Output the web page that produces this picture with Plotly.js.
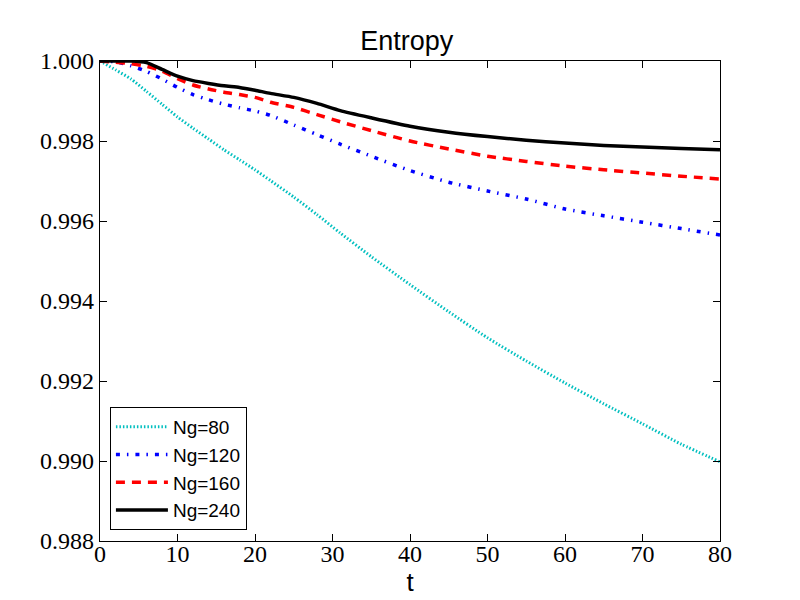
<!DOCTYPE html>
<html>
<head>
<meta charset="utf-8">
<script src="https://cdn.plot.ly/plotly-3.0.1.min.js"></script>
<style>
  html, body { margin: 0; padding: 0; background: white; }
  #chart { width: 800px; height: 600px; }
</style>
</head>
<body>
<div id="chart"></div>
<script>
// time samples
const t = [0, 2, 4, 6, 8, 10, 12, 14, 16, 18, 20, 22, 25, 28, 31, 35, 40, 45, 50, 55, 60, 65, 70, 75, 80];

const ng80 = [1.00000, 0.99978, 0.99955, 0.99924, 0.99892, 0.99860, 0.99832, 0.99805, 0.99778, 0.99753,
              0.99728, 0.99701, 0.99660, 0.99616, 0.99570, 0.99511, 0.99441, 0.99373, 0.99308, 0.99250,
              0.99195, 0.99143, 0.99093, 0.99042, 0.98998];
const ng120 = [1.00000, 0.99998, 0.99988, 0.99974, 0.99955, 0.99934, 0.99916, 0.99903, 0.99892, 0.99883,
               0.99875, 0.99864, 0.99840, 0.99816, 0.99792, 0.99762, 0.99726, 0.99697, 0.99675, 0.99655,
               0.99630, 0.99613, 0.99597, 0.99581, 0.99565];
const ng160 = [1.00000, 0.99997, 0.99993, 0.99987, 0.99975, 0.99956, 0.99940, 0.99930, 0.99922, 0.99916,
               0.99909, 0.99897, 0.99884, 0.99866, 0.99848, 0.99826, 0.99800, 0.99780, 0.99762, 0.99749,
               0.99737, 0.99728, 0.99720, 0.99712, 0.99705];
const ng240 = [1.00000, 1.00000, 1.00000, 0.99996, 0.99979, 0.99962, 0.99951, 0.99944, 0.99938, 0.99934,
               0.99927, 0.99919, 0.99909, 0.99894, 0.99876, 0.99858, 0.99837, 0.99822, 0.99811, 0.99802,
               0.99795, 0.99789, 0.99785, 0.99781, 0.99778];

const xTicks = [0, 10, 20, 30, 40, 50, 60, 70, 80];
const yTicks = [0.988, 0.990, 0.992, 0.994, 0.996, 0.998, 1.000];

function series(y, name, color, width, dash) {
    return {
        x: t, y: y, name: name,
        type: 'scatter', mode: 'lines',
        line: { color: color, width: width, dash: dash, shape: 'spline', smoothing: 0.6 }
    };
}

const data = [
    series(ng80, 'Ng=80', '#00bfbf', 3, '1.5px,2px'),
    series(ng120, 'Ng=120', '#0000ff', 3.5, '4px,7px,1.5px,7px'),
    series(ng160, 'Ng=160', '#ff0000', 3.5, '9px,7px'),
    series(ng240, 'Ng=240', '#000000', 3.5, 'solid')
];

const tickFont = { family: 'Liberation Serif, DejaVu Serif, serif', size: 24, color: 'black' };
const sansFont = 'Liberation Sans, Arial, sans-serif';

const axisCommon = {
    showline: true, linecolor: 'black', linewidth: 1.3,
    mirror: 'allticks', ticks: 'inside', ticklen: 7, tickwidth: 1, tickcolor: 'black',
    showgrid: false, zeroline: false, tickfont: tickFont
};

const layout = {
    width: 800, height: 600,
    margin: { l: 100, r: 80, t: 61, b: 59 },
    paper_bgcolor: 'white', plot_bgcolor: 'white',
    title: {
        text: 'Entropy',
        font: { family: sansFont, size: 27, color: 'black' },
        x: 0.5085, xanchor: 'center', y: 0.932, yanchor: 'middle', yref: 'container'
    },
    xaxis: Object.assign({}, axisCommon, {
        range: [0, 80], tickvals: xTicks, ticktext: xTicks.map(String),
        ticklabelstandoff: -9,
        title: { text: 't', font: { family: sansFont, size: 26, color: 'black' }, standoff: 0 }
    }),
    yaxis: Object.assign({}, axisCommon, {
        range: [0.988, 1.000], tickvals: yTicks, ticktext: yTicks.map(v => v.toFixed(3))
    }),
    showlegend: true,
    legend: {
        x: 0.016, y: 0.023, xanchor: 'left', yanchor: 'bottom',
        bgcolor: 'white', bordercolor: 'black', borderwidth: 1,
        font: { family: sansFont, size: 19, color: 'black' },
        itemwidth: 52
    }
};

Plotly.newPlot('chart', data, layout, { displayModeBar: false, staticPlot: true });
</script>
</body>
</html>
